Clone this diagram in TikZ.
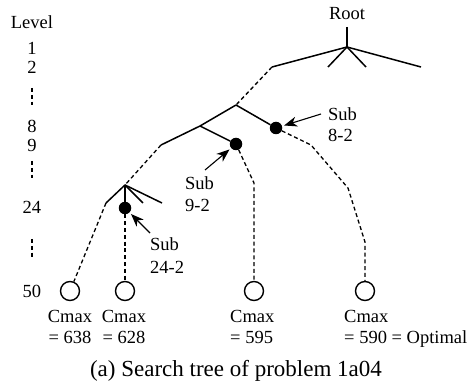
\documentclass[tikz,border=0pt]{standalone}
\usepackage{fontspec}
\setmainfont{Liberation Serif}
\usetikzlibrary{arrows.meta}
\begin{document}
\begin{tikzpicture}[x=1pt,y=-1pt,
  solidline/.style={line width=1.5pt},
  dashline/.style={line width=1.3pt, dash pattern=on 4pt off 2.8pt},
  filled/.style={circle,fill=black,inner sep=0pt,minimum size=12.5pt},
  leaf/.style={circle,draw,line width=1.4pt,inner sep=0pt,minimum size=19pt},
  lbl/.style={font=\fontsize{18.5}{21}\selectfont, inner sep=0pt},
  pointer/.style={line width=1.1pt,shorten >=2pt,-{Stealth[length=13pt,width=10pt,inset=4pt]}}]
\useasboundingbox (0,0) rectangle (472,385);

% level column
\node[lbl] (lev) at (32,22) {Level};
\node[lbl] (l1) at (32,48) {1};
\node[lbl] (l2) at (32,67) {2};
\coordinate (m1a) at (32,88); \coordinate (m1b) at (32,105);
\node[lbl] (l8) at (32,126) {8};
\node[lbl] (l9) at (32,145) {9};
\coordinate (m2a) at (32,161); \coordinate (m2b) at (32,178);
\node[lbl] (l24) at (32,207) {24};
\coordinate (m3a) at (32,239); \coordinate (m3b) at (32,257);
\node[lbl] (l50) at (32,291) {50};
\draw[dashline] (m1a) -- (m1b);
\draw[dashline] (m2a) -- (m2b);
\draw[dashline] (m3a) -- (m3b);

% root
\node[lbl] (root) at (347,14) {Root};
\coordinate (rtop) at (347,27);
\coordinate (r0) at (347,47);
\coordinate (a1) at (272,67);
\coordinate (a2) at (328,67);
\coordinate (a3) at (366,67);
\coordinate (a4) at (421,67);
\draw[solidline] (rtop) -- (r0);
\draw[solidline] (r0) -- (a1);
\draw[solidline] (r0) -- (a2);
\draw[solidline] (r0) -- (a3);
\draw[solidline] (r0) -- (a4);

% level 8
\coordinate (j2) at (236,105);
\coordinate (b1) at (200,126);
\node[filled] (s82) at (276,128) {};
\draw[dashline] (a1) -- (j2);
\draw[solidline] (j2) -- (b1);
\draw[solidline] (j2) -- (s82);

% level 9
\coordinate (c1) at (161,145);
\node[filled] (s92) at (236,144) {};
\draw[solidline] (b1) -- (c1);
\draw[solidline] (b1) -- (s92);

% level 24
\coordinate (j3) at (125,185);
\coordinate (d1) at (106,203);
\coordinate (d2) at (143,203);
\coordinate (d3) at (162,203);
\node[filled] (s242) at (125,208) {};
\draw[dashline] (c1) -- (j3);
\draw[solidline] (j3) -- (d1);
\draw[solidline] (j3) -- (d2);
\draw[solidline] (j3) -- (d3);
\draw[solidline] (j3) -- (s242);

% leaves
\node[leaf] (leaf1) at (70,291) {};
\node[leaf] (leaf2) at (125,291) {};
\node[leaf] (leaf3) at (254,291) {};
\node[leaf] (leaf4) at (365,291) {};
\coordinate (e1) at (254,183);
\coordinate (f1) at (311,145);
\coordinate (f2) at (348,188);
\coordinate (f3) at (365,242);
\draw[dashline] (d1) -- (leaf1);
\draw[dashline] (s242) -- (leaf2);
\draw[dashline] (s92) -- (e1) -- (leaf3);
\draw[dashline] (s82) -- (f1) -- (f2) -- (f3) -- (leaf4);

% sub labels
\node[lbl,anchor=base west] (sub82) at (328,121) {Sub};
\node[lbl,anchor=base west] (n82) at (328,142) {8-2};
\coordinate (p82) at (321,114);
\draw[pointer] (p82) -- (s82);

\node[lbl,anchor=base west] (sub92) at (185,190) {Sub};
\node[lbl,anchor=base west] (n92) at (185,212) {9-2};
\coordinate (p92) at (205,170);
\draw[pointer] (p92) -- (s92);

\node[lbl,anchor=base west] (sub242) at (150,251) {Sub};
\node[lbl,anchor=base west] (n242) at (150,274) {24-2};
\coordinate (p242) at (150,233);
\draw[pointer] (p242) -- (s242);

% leaf labels
\node[lbl,anchor=base] (c1a) at (70,323) {Cmax};
\node[lbl,anchor=base] (c1b) at (70,344) {= 638};
\node[lbl,anchor=base] (c2a) at (124,323) {Cmax};
\node[lbl,anchor=base] (c2b) at (124,344) {= 628};
\node[lbl,anchor=base west] (c3a) at (230,323) {Cmax};
\node[lbl,anchor=base west] (c3b) at (230,344) {= 595};
\node[lbl,anchor=base west] (c4a) at (344,323) {Cmax};
\node[lbl,anchor=base west] (c4b) at (344,344) {= 590 = Optimal};

% caption
\node[font=\fontsize{23}{26}\selectfont,inner sep=0pt,anchor=base] (cap) at (236,376) {(a) Search tree of problem 1a04};
\end{tikzpicture}
\end{document}
